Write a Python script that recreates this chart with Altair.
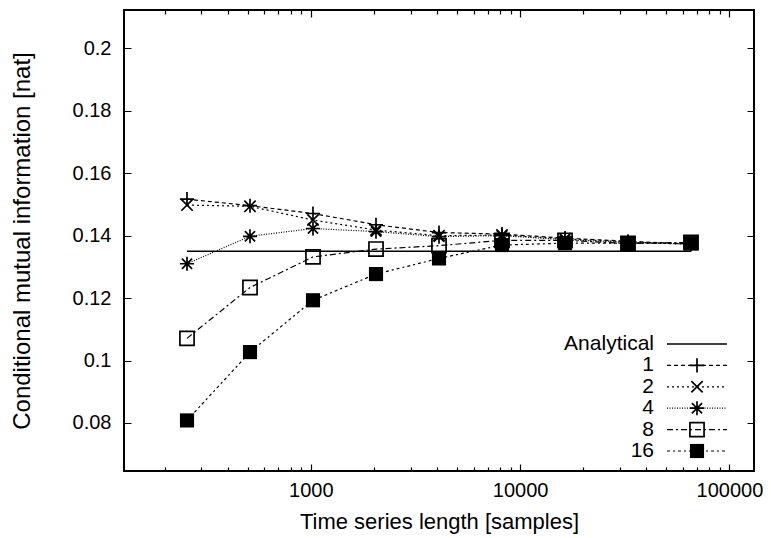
import altair as alt
import pandas as pd

# ---- data ----
samples = [256, 512, 1024, 2048, 4096, 8192, 16384, 32768, 65536]
analytical = [0.135, 0.135, 0.135, 0.135, 0.135, 0.135, 0.135, 0.135, 0.135]
s1 = [0.1517, 0.1496, 0.1471, 0.1435, 0.1410, 0.1405, 0.1392, 0.1382, 0.1373]
s2 = [0.1498, 0.1494, 0.1450, 0.1418, 0.1400, 0.1402, 0.1390, 0.1380, 0.1372]
s4 = [0.1310, 0.1398, 0.1423, 0.1413, 0.1397, 0.1400, 0.1387, 0.1379, 0.1373]
s8 = [0.1071, 0.1234, 0.1332, 0.1357, 0.1368, 0.1385, 0.1385, 0.1375, 0.1378]
s16 = [0.0808, 0.1027, 0.1193, 0.1277, 0.1327, 0.1370, 0.1376, 0.1376, 0.1376]

series_names = ["1", "2", "4", "8", "16"]
series_values = [s1, s2, s4, s8, s16]
legend_labels = ["Analytical", "1", "2", "4", "8", "16"]

x_major = [1000, 10000, 100000]
x_minor = [200, 300, 400, 500, 600, 700, 800, 900,
           2000, 3000, 4000, 5000, 6000, 7000, 8000, 9000,
           20000, 30000, 40000, 50000, 60000, 70000, 80000, 90000]
y_ticks = [0.08, 0.1, 0.12, 0.14, 0.16, 0.18, 0.2]

# ---- styles ----
W, H = 630, 461
FONT = "Liberation Sans"
FS = 20
dashes = {"1": [4, 3], "2": [2, 3], "4": [1, 1.5], "8": [6, 3, 2, 3], "16": [3, 3, 2, 3]}
shapes = {
    "1": "M-1,0L1,0M0,-1L0,1",
    "2": "M-0.8,-0.8L0.8,0.8M-0.8,0.8L0.8,-0.8",
    "4": "M-1,0L1,0M0,-1L0,1M-0.72,-0.72L0.72,0.72M-0.72,0.72L0.72,-0.72",
    "8": "square",
    "16": "square",
}
filled = {"1": False, "2": False, "4": False, "8": False, "16": True}
MSIZE = 200

rows = []
for name, vals in zip(series_names, series_values):
    for s, v in zip(samples, vals):
        rows.append({"series": name, "samples": s, "value": v})
df = pd.DataFrame(rows)
df_an = pd.DataFrame({"samples": samples, "value": analytical})

major_test = " || ".join(f"datum.value == {m}" for m in x_major)

x_enc = alt.X(
    "samples:Q",
    scale=alt.Scale(type="log", domain=[128, 131072], nice=False, zero=False),
    axis=alt.Axis(
        values=x_major + x_minor,
        title="Time series length [samples]",
        labelExpr=f"({major_test}) ? format(datum.value, 'd') : ''",
        ticks=False, tickSize=0, domain=False,
        grid=True, gridColor="black", gridOpacity=1, gridWidth=1.2,
        gridDash={"condition": {"test": major_test, "value": [7, H - 14, 7, 3000]},
                  "value": [4, H - 8, 4, 3000]},
        labelPadding=9, labelFontSize=FS, labelFont=FONT, labelColor="black",
        titleFontSize=22, titleFont=FONT, titleFontWeight="normal", titleColor="black",
        titleY=50, titleBaseline="middle",
    ),
)
y_enc = alt.Y(
    "value:Q",
    scale=alt.Scale(domain=[0.0646, 0.2123], nice=False, zero=False),
    axis=alt.Axis(
        values=y_ticks, format="~g",
        title="Conditional mutual information [nat]",
        ticks=False, tickSize=0, domain=False,
        grid=True, gridColor="black", gridOpacity=1, gridWidth=1.2,
        gridDash=[7, W - 14, 7, 3000],
        labelPadding=13, labelFontSize=FS, labelFont=FONT, labelColor="black",
        titleFontSize=24, titleFont=FONT, titleFontWeight="normal", titleColor="black",
        titleX=-102, titleY=H / 2, titleAngle=-90, titleBaseline="middle", titleAlign="center",
    ),
)

layers = [
    alt.Chart(df_an).mark_line(color="black", strokeWidth=1.5).encode(x=x_enc, y=y_enc)
]
for name in series_names:
    sub = alt.Chart(df).transform_filter(alt.datum.series == name)
    layers.append(sub.mark_line(color="black", strokeWidth=1.2, strokeDash=dashes[name]).encode(x=x_enc, y=y_enc))
    layers.append(sub.mark_point(shape=shapes[name], size=MSIZE, filled=filled[name],
                                 color="black", opacity=1, strokeWidth=1.7).encode(x=x_enc, y=y_enc))
data_layer = alt.layer(*layers)

# ---- gnuplot-style key ----
leg_df = pd.DataFrame({"label": legend_labels, "row": list(range(len(legend_labels)))})
leg_y = alt.Y("row:Q", scale=alt.Scale(domain=[0, 5], range=[334, 441]), axis=None)
leg_layers = [
    alt.Chart(leg_df).mark_text(align="right", baseline="middle", font=FONT, fontSize=21, color="black")
    .encode(x=alt.value(530), y=leg_y, text="label:N")
]
leg_layers.append(
    alt.Chart(leg_df).transform_filter(alt.datum.label == "Analytical")
    .mark_rule(color="black", strokeWidth=1.5)
    .encode(x=alt.value(543), x2=alt.value(603), y=leg_y)
)
for name in series_names:
    sub = alt.Chart(leg_df).transform_filter(alt.datum.label == name)
    leg_layers.append(sub.mark_rule(color="black", strokeWidth=1.2, strokeDash=dashes[name])
                      .encode(x=alt.value(543), x2=alt.value(603), y=leg_y))
    leg_layers.append(sub.mark_point(shape=shapes[name], size=MSIZE, filled=filled[name],
                                     color="black", opacity=1, strokeWidth=1.7)
                      .encode(x=alt.value(573), y=leg_y))
legend_layer = alt.layer(*leg_layers)

chart = (
    alt.layer(data_layer, legend_layer)
    .resolve_scale(y="independent")
    .properties(
        width=W, height=H,
        padding={"left": 116, "top": 2, "right": 9, "bottom": 67},
        autosize=alt.AutoSizeParams(type="none"),
        background="white",
    )
    .configure_view(stroke="black", strokeWidth=2)
)

chart.save("out.html", embed_options={"renderer": "svg", "actions": False})
